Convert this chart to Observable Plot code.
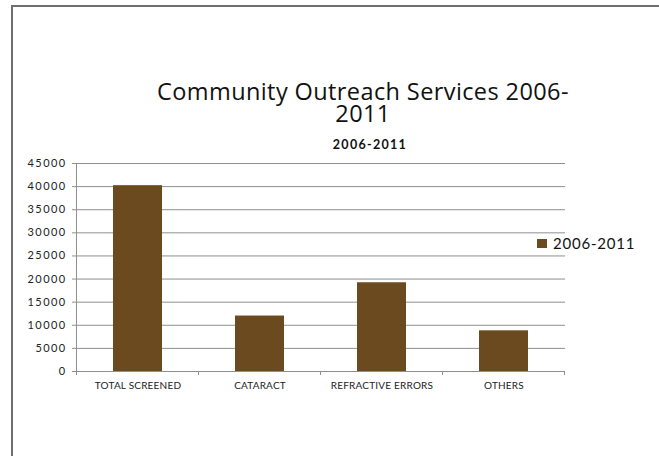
<!DOCTYPE html>
<html><head><meta charset="utf-8">
<script src="https://cdn.jsdelivr.net/npm/d3@7"></script>
<script src="https://cdn.jsdelivr.net/npm/@observablehq/plot@0.6"></script>
<style>
html,body{margin:0;padding:0;background:#fff;}
#wrap{position:relative;width:659px;height:456px;overflow:hidden;font-family:Lato,"Open Sans",sans-serif;}
#frame{position:absolute;left:11px;top:5px;right:-5px;bottom:-5px;border-top:2px solid #6e6e6e;border-left:2px solid #6e6e6e;}
.title{position:absolute;left:0;width:726px;text-align:center;font-family:"Open Sans",sans-serif;font-size:23.5px;line-height:21px;height:21px;letter-spacing:0.4px;color:#111;white-space:nowrap;}
#title1{top:81px;}
#title2{top:103px;}
#subtitle{position:absolute;left:0;width:740px;top:137px;text-align:center;font-family:Lato,sans-serif;font-size:12.5px;font-weight:bold;letter-spacing:1.3px;color:#111;}
#legend{position:absolute;left:537px;top:234px;font-size:15px;letter-spacing:0.8px;color:#111;display:flex;align-items:center;gap:6px;}
#legend span.sw{display:inline-block;width:10px;height:9px;}
#chart{position:absolute;left:0;top:0;}
.yax text{letter-spacing:1.4px;}
.xax text{letter-spacing:0.2px;}
</style></head>
<body>
<div id="wrap">
  <div id="frame"></div>
  <div id="chart"></div>
  <div class="title" id="title1">Community Outreach Services 2006-</div>
  <div class="title" id="title2">2011</div>
  <div id="subtitle">2006-2011</div>
  <div id="legend"><span class="sw"></span><span class="lt"></span></div>
</div>
<script>
const categories = ["TOTAL SCREENED", "CATARACT", "REFRACTIVE ERRORS", "OTHERS"];
const values = [40200, 12000, 19200, 8800];
const yTicks = [0, 5000, 10000, 15000, 20000, 25000, 30000, 35000, 40000, 45000];
const seriesName = "2006-2011";
const barColor = "#6b4a1f";
const gridColor = "#8f8f8f";

const data = categories.map((c, i) => ({category: c, value: values[i]}));

document.querySelector("#legend .sw").style.background = barColor;
document.querySelector("#legend .lt").textContent = seriesName;

const boundaryTicks = (index, scales, channels, dimensions) => {
  const x = scales.x;
  const step = x.step();
  const g = d3.create("svg:g").attr("stroke", gridColor).attr("stroke-width", 1);
  const y0 = dimensions.height - dimensions.marginBottom;
  const first = x(categories[0]) - (step - x.bandwidth()) / 2;
  g.append("line").attr("x1", first).attr("x2", first).attr("y1", y0).attr("y2", y0 + 4);
  for (const c of categories) {
    const xb = x(c) + x.bandwidth() + (step - x.bandwidth()) / 2;
    g.append("line").attr("x1", xb).attr("x2", xb).attr("y1", y0).attr("y2", y0 + 4);
  }
  // left axis line
  g.append("line").attr("x1", first).attr("x2", first).attr("y1", dimensions.marginTop).attr("y2", y0);
  return g.node();
};

const plot = Plot.plot({
  width: 659,
  height: 456,
  marginLeft: 76,
  marginRight: 94,
  marginTop: 163,
  marginBottom: 85,
  style: {fontFamily: "Lato, 'Open Sans', sans-serif", background: "transparent", overflow: "visible"},
  x: {domain: categories, paddingInner: 0.6, paddingOuter: 0.3, label: null},
  y: {domain: [0, 45000], ticks: yTicks, label: null},
  marks: [
    Plot.ruleY(yTicks.filter(t => t > 0), {stroke: gridColor, strokeWidth: 1, strokeOpacity: 1}),
    Plot.barY(data, {x: "category", y: "value", fill: barColor}),
    Plot.ruleY([0], {stroke: gridColor, strokeWidth: 1}),
    Plot.axisY({ticks: yTicks, tickSize: 4, tickPadding: 6, tickFormat: d => String(d), fontSize: 11, stroke: gridColor, fill: "#222", className: "yax"}),
    Plot.axisX({tickSize: 0, tickPadding: 10, fontSize: 10, fill: "#222", className: "xax"}),
    boundaryTicks
  ]
});
document.getElementById("chart").appendChild(plot);
</script>
</body></html>
